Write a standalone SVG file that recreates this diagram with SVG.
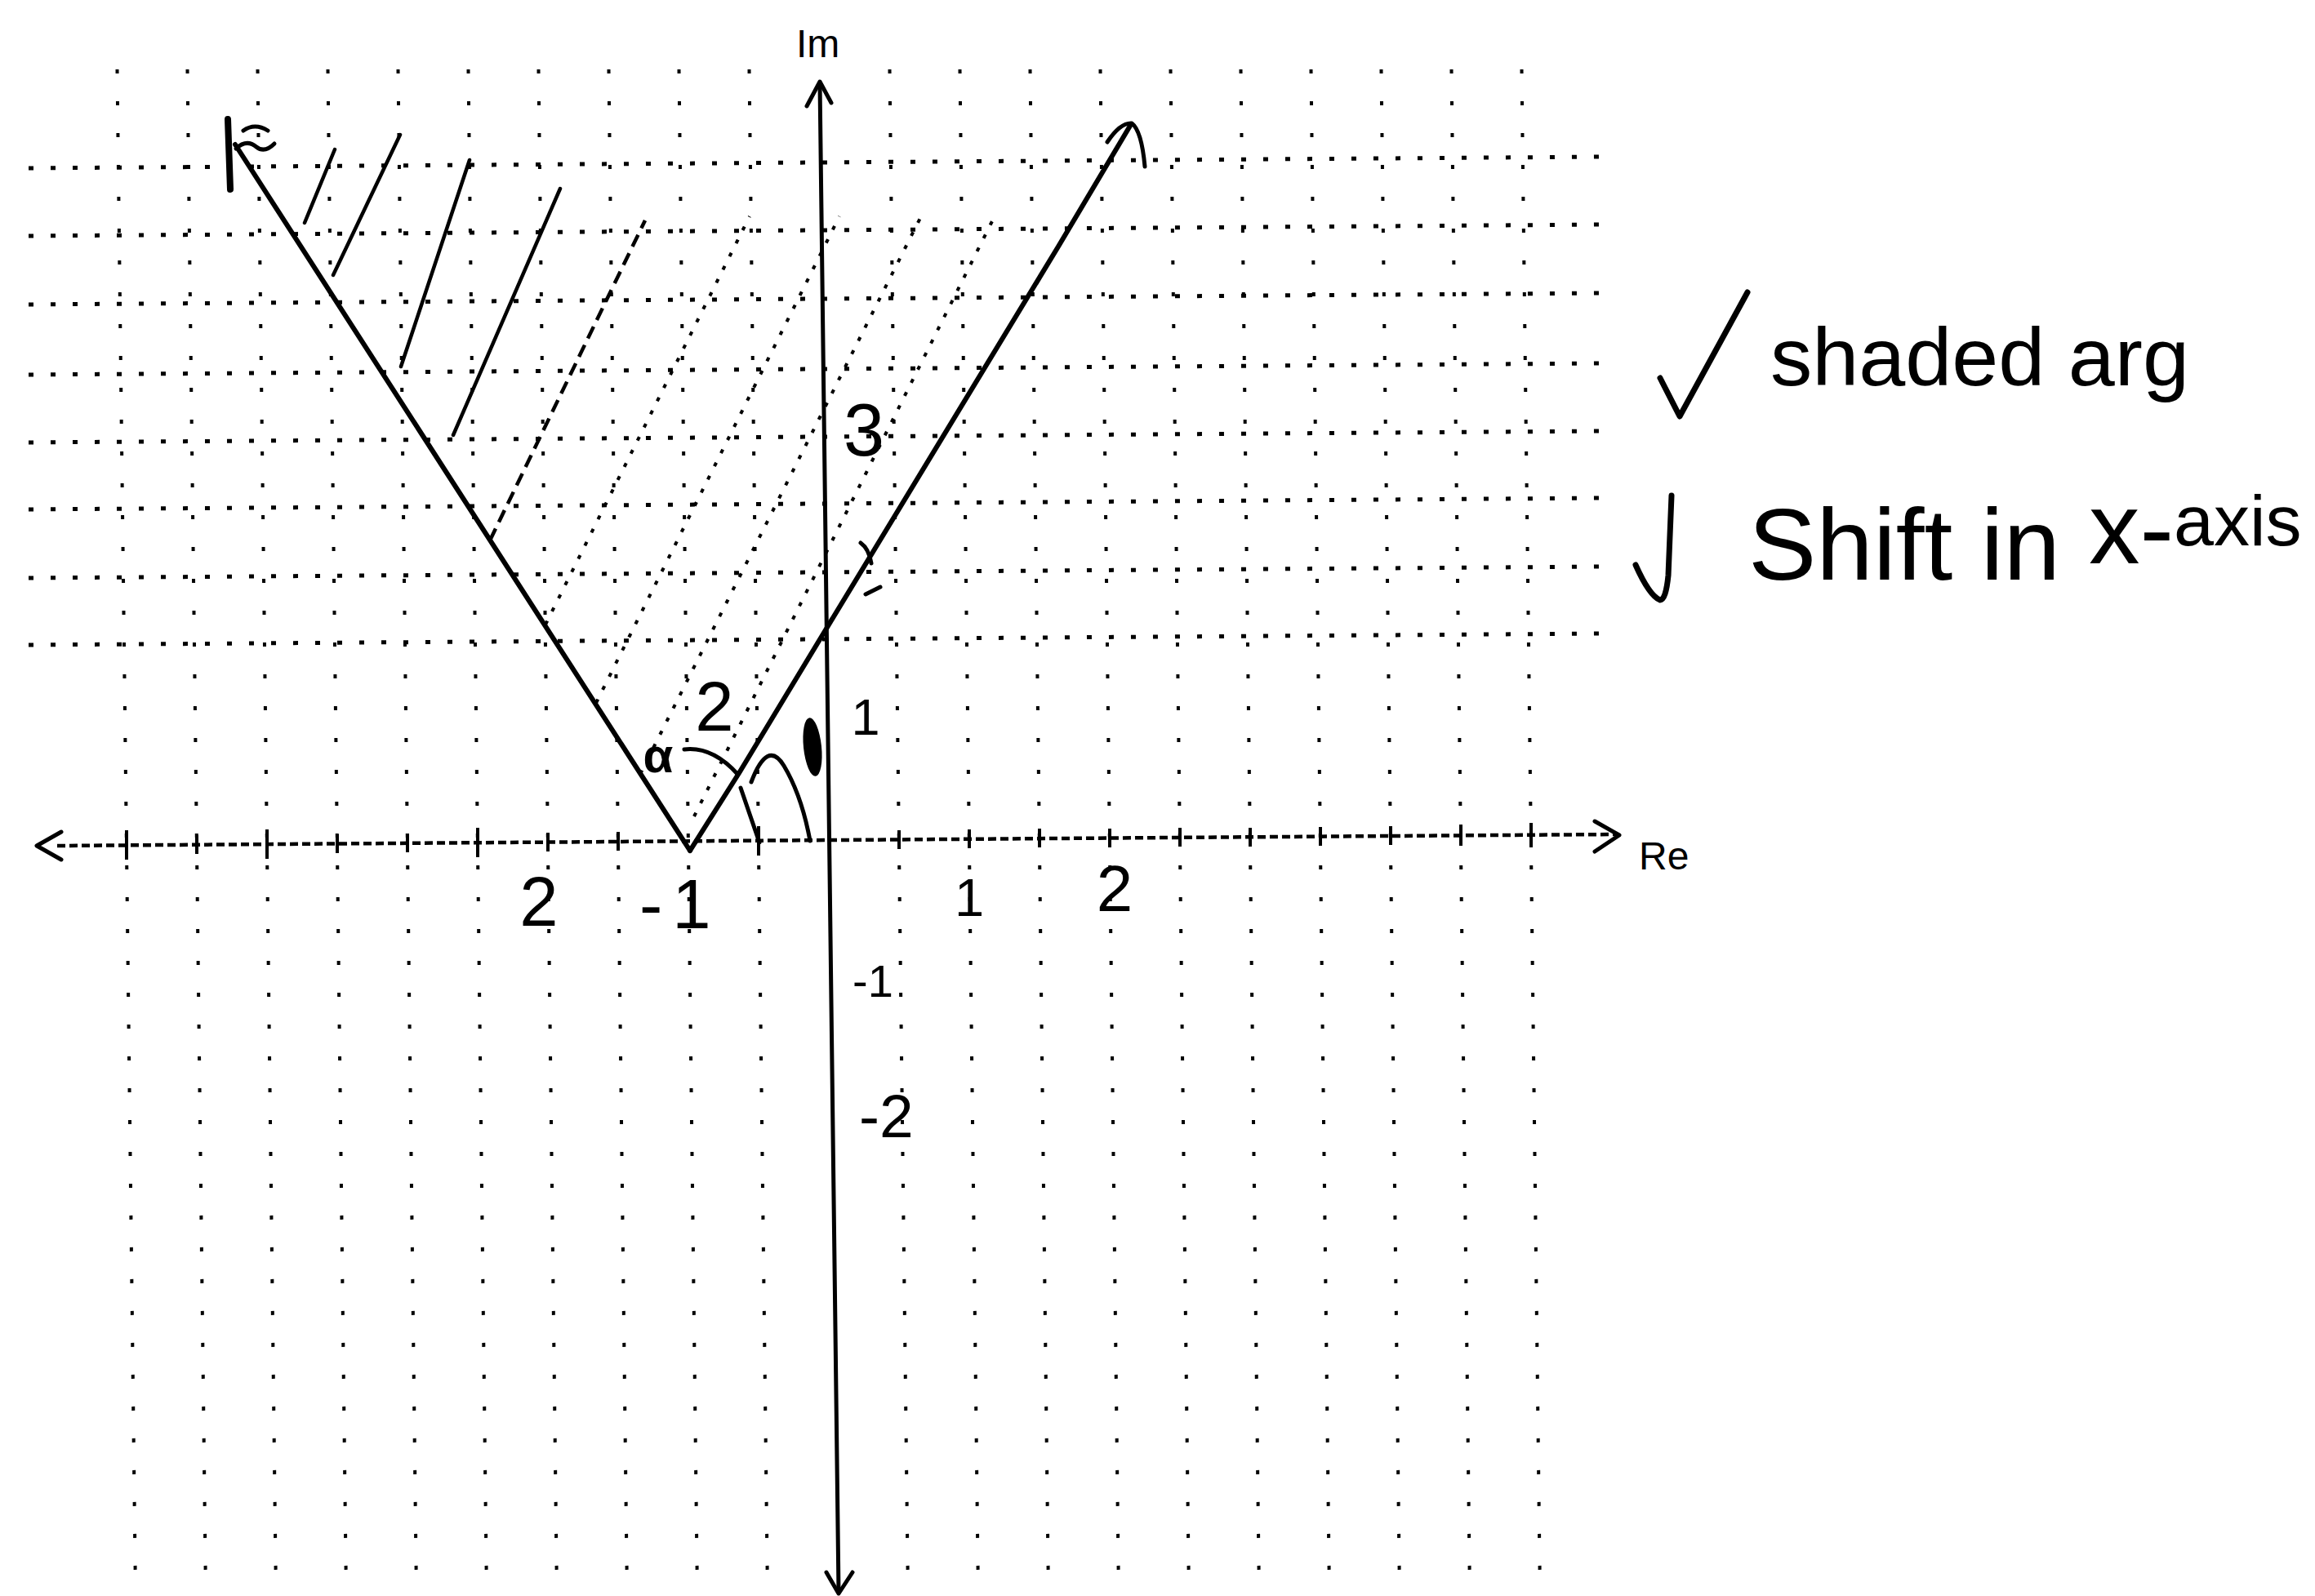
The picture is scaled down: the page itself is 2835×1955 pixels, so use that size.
<svg xmlns="http://www.w3.org/2000/svg" width="2835" height="1955" viewBox="0 0 2835 1955">
<style>
.gv{stroke:#000;stroke-width:4;stroke-dasharray:5 34;fill:none}
.gh{stroke:#000;stroke-width:5;stroke-dasharray:6 21;fill:none}
.ax{stroke:#000;stroke-width:5;fill:none;stroke-linecap:round;stroke-linejoin:round}
.re{stroke:#000;stroke-width:4.5;stroke-dasharray:10 5;fill:none}
.tk{stroke:#000;stroke-width:4;fill:none}
.bd{stroke:#000;stroke-width:6;fill:none;stroke-linecap:round;stroke-linejoin:round}
.ht{stroke:#000;stroke-width:4.5;stroke-linecap:round;fill:none}
.hd{stroke:#000;stroke-width:4.5;stroke-dasharray:16 9;fill:none}
.hf{stroke:#000;stroke-width:4;stroke-dasharray:5 13;fill:none}
.pen{stroke:#000;stroke-width:5;fill:none;stroke-linecap:round;stroke-linejoin:round}
.t{font-family:"Liberation Sans",Arial,sans-serif;fill:#000}
</style>
<rect width="2835" height="1955" fill="#fff"/>
<g id="grid">
<line class="gv" x1="143.5" y1="85" x2="166" y2="1955"/>
<line class="gv" x1="229.5" y1="85" x2="252" y2="1955"/>
<line class="gv" x1="315.5" y1="85" x2="338" y2="1955"/>
<line class="gv" x1="401.5" y1="85" x2="424" y2="1955"/>
<line class="gv" x1="487.5" y1="85" x2="510" y2="1955"/>
<line class="gv" x1="573.5" y1="85" x2="596" y2="1955"/>
<line class="gv" x1="659.5" y1="85" x2="682" y2="1955"/>
<line class="gv" x1="745.5" y1="85" x2="768" y2="1955"/>
<line class="gv" x1="831.5" y1="85" x2="854" y2="1955"/>
<line class="gv" x1="917.5" y1="85" x2="940" y2="1955"/>
<line class="gv" x1="1089.5" y1="85" x2="1112" y2="1955"/>
<line class="gv" x1="1175.5" y1="85" x2="1198" y2="1955"/>
<line class="gv" x1="1261.5" y1="85" x2="1284" y2="1955"/>
<line class="gv" x1="1347.5" y1="85" x2="1370" y2="1955"/>
<line class="gv" x1="1433.5" y1="85" x2="1456" y2="1955"/>
<line class="gv" x1="1519.5" y1="85" x2="1542" y2="1955"/>
<line class="gv" x1="1605.5" y1="85" x2="1628" y2="1955"/>
<line class="gv" x1="1691.5" y1="85" x2="1714" y2="1955"/>
<line class="gv" x1="1777.5" y1="85" x2="1800" y2="1955"/>
<line class="gv" x1="1863.5" y1="85" x2="1886" y2="1955"/>
<line class="gh" x1="35" y1="206" x2="1968" y2="192"/>
<line class="gh" x1="35" y1="289" x2="1968" y2="275"/>
<line class="gh" x1="35" y1="373" x2="1968" y2="359"/>
<line class="gh" x1="35" y1="459" x2="1968" y2="445"/>
<line class="gh" x1="35" y1="542" x2="1968" y2="528"/>
<line class="gh" x1="35" y1="624" x2="1968" y2="610"/>
<line class="gh" x1="35" y1="708" x2="1968" y2="694"/>
<line class="gh" x1="35" y1="790" x2="1968" y2="776"/>
</g>
<g id="re-axis">
<line class="re" x1="70" y1="1036" x2="1978" y2="1022"/>
<path class="ax" d="M75 1019 L45 1036 L75 1053 M1953 1006 L1983 1023 L1953 1043"/>
<path class="tk" d="M155 1017 V1053 M241 1023 V1046 M327 1016 V1052 M413 1022 V1045 M499 1021 V1044 M585 1014 V1050 M671 1020 V1043 M757 1019 V1042 M929 1012 V1048 M1101 1017 V1040 M1187 1016 V1039 M1273 1015 V1038 M1359 1015 V1038 M1445 1014 V1037 M1531 1014 V1037 M1617 1013 V1036 M1703 1012 V1035 M1789 1010 V1036 M1875 1008 V1038"/>
</g>
<g id="im-axis">
<line class="ax" x1="1004" y1="102" x2="1027" y2="1950"/>
<path class="ax" d="M988 130 L1004 100 L1018 126 M1012 1926 L1027 1952 L1044 1926"/>
</g>
<g id="shading">
<line class="ht" x1="373" y1="273" x2="410" y2="183"/>
<line class="ht" x1="408" y1="337" x2="490" y2="165"/>
<line class="ht" x1="491" y1="449" x2="575" y2="196"/>
<line class="ht" x1="555" y1="533" x2="686" y2="231"/>
<line class="hd" x1="600" y1="662" x2="790" y2="270"/>
<line class="hf" x1="668" y1="765" x2="918" y2="265"/>
<line class="hf" x1="730" y1="861" x2="1028" y2="265"/>
<line class="hf" x1="784" y1="948" x2="1128" y2="265"/>
<line class="hf" x1="850" y1="1000" x2="1218" y2="265"/>
</g>
<g id="boundary-left">
<line class="bd" x1="288" y1="177" x2="845" y2="1042"/>
<path class="bd" d="M279 146 L282 232" style="stroke-width:8"/>
<path class="pen" d="M298 160 Q312 150 328 160 M289 182 Q302 170 314 180 Q324 188 336 176"/>
</g>
<g id="boundary-right">
<path class="bd" d="M845 1042 L905 947 L1012 770 L1296 302 L1384 154"/>
<path class="pen" d="M1356 174 Q1372 150 1386 151 Q1398 160 1402 204"/>
</g>
<g id="angle-marks">
<path class="pen" d="M838 918 Q872 914 903 948"/>
<path class="pen" d="M907 965 L930 1032 M920 958 Q940 905 960 938 Q982 975 992 1030"/>
<ellipse cx="995" cy="915" rx="11" ry="36" fill="#000" transform="rotate(-6 995 915)"/>
<path class="pen" d="M1054 665 Q1064 672 1067 690 M1060 728 L1078 719"/>
<text class="t" x="875" y="895" font-size="85" text-anchor="middle">2</text>
<text class="t" x="806" y="946" font-size="60" font-weight="bold" text-anchor="middle">α</text>
</g>
<g id="labels">
<text class="t" x="975" y="70" font-size="48">Im</text>
<text class="t" x="2007" y="1065" font-size="48">Re</text>
<text class="t" x="660" y="1134" font-size="85" text-anchor="middle">2</text>
<text class="t" x="783" y="1137" font-size="85" letter-spacing="12">-1</text>
<text class="t" x="1187" y="1122" font-size="65" text-anchor="middle">1</text>
<text class="t" x="1365" y="1116" font-size="80" text-anchor="middle">2</text>
<text class="t" x="1044" y="1221" font-size="56">-1</text>
<text class="t" x="1052" y="1393" font-size="75">-2</text>
<text class="t" x="1058" y="558" font-size="90" text-anchor="middle">3</text>
<text class="t" x="1060" y="900" font-size="63" text-anchor="middle">1</text>
</g>
<g id="notes">
<path class="pen" d="M2033 463 L2057 510 L2140 358" style="stroke-width:7"/>
<text class="t" x="2168" y="472" font-size="100" textLength="513" lengthAdjust="spacingAndGlyphs">shaded arg</text>
<path class="pen" d="M2047 607 L2043 705 Q2040 735 2033 735 Q2020 730 2003 692" style="stroke-width:7"/>
<text class="t" x="2141" y="710" font-size="125">Shift in <tspan dy="-20">x-</tspan><tspan font-size="88" dy="-22">axis</tspan></text>
</g>
</svg>
